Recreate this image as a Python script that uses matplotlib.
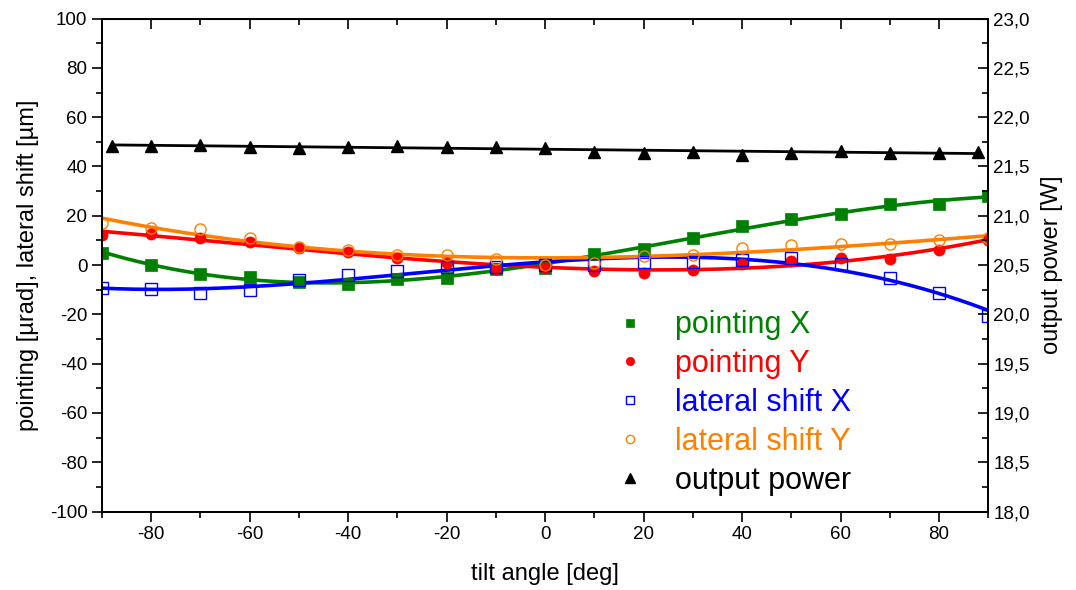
import numpy as np
import matplotlib
matplotlib.use('Agg')
import matplotlib.pyplot as plt
import matplotlib.ticker as pltick

plt.rcParams['font.family'] = ['Liberation Sans', 'DejaVu Sans']
plt.rcParams['axes.unicode_minus'] = False

# measured data
angle = [-90, -80, -70, -60, -50, -40, -30, -20, -10, 0, 10, 20, 30, 40, 50, 60, 70, 80, 90]
pointing_x = [5.0, 0.0, -3.5, -4.8, -6.8, -7.8, -5.8, -5.2, -1.8, -1.0, 4.5, 6.5, 11.0, 15.8, 18.5, 20.8, 24.8, 24.8, 28.0]
pointing_y = [12.0, 12.8, 10.8, 9.2, 6.8, 5.2, 3.0, 1.0, -1.4, -1.2, -2.6, -3.2, -2.2, 0.5, 1.5, 2.8, 2.5, 6.2, 10.0]
shift_x = [-9.2, -9.8, -11.2, -10.0, -6.0, -4.0, -2.4, -0.6, -0.8, 0.2, 0.2, 1.1, 1.4, 2.2, 3.0, 0.6, -5.2, -11.4, -20.5]
shift_y = [17.0, 15.2, 14.5, 11.0, 7.5, 6.0, 4.0, 4.2, 2.5, 0.0, 0.8, 3.8, 4.2, 6.8, 8.2, 8.6, 8.4, 10.0, 11.0]

power_angle = [-88, -80, -70, -60, -50, -40, -30, -20, -10, 0, 10, 20, 30, 40, 50, 60, 70, 80, 88]
power = [21.71, 21.71, 21.72, 21.70, 21.69, 21.70, 21.71, 21.70, 21.70, 21.69, 21.65, 21.64, 21.65, 21.62, 21.64, 21.66, 21.64, 21.64, 21.65]

fig = plt.figure(figsize=(10.76, 5.9), dpi=100)
ax = fig.add_axes([0.0948, 0.133, 0.8237, 0.8355])
ax2 = ax.twinx()

x_fit = np.linspace(-90, 90, 300)

series = [
    (pointing_x, '#008000', 's', '#008000', 'pointing X'),
    (pointing_y, '#ff0000', 'o', '#ff0000', 'pointing Y'),
    (shift_x, '#0000ff', 's', 'none', 'lateral shift X'),
    (shift_y, '#ff8000', 'o', 'none', 'lateral shift Y'),
]

handles = []
for vals, col, mk, face, label in series:
    coef = np.polyfit(angle, vals, 3)
    ax.plot(x_fit, np.polyval(coef, x_fit), color=col, lw=2.6, zorder=2)
    h, = ax.plot(angle, vals, linestyle='none', marker=mk, ms=8,
                 markerfacecolor=face, markeredgecolor=col,
                 markeredgewidth=1.0 if face == 'none' else 0.5,
                 label=label, zorder=3)
    handles.append(h)

pcoef = np.polyfit(power_angle, power, 1)
xp = np.linspace(-88, 88, 50)
ax2.plot(xp, np.polyval(pcoef, xp), color='black', lw=2)
h, = ax2.plot(power_angle, power, linestyle='none', marker='^', ms=9,
              color='black', label='output power')
handles.append(h)

ax.set_xlim(-90, 90)
ax.set_ylim(-100, 100)
ax2.set_ylim(18, 23)

ax.xaxis.set_major_locator(pltick.MultipleLocator(20))
ax.xaxis.set_minor_locator(pltick.MultipleLocator(10))
ax.yaxis.set_major_locator(pltick.MultipleLocator(20))
ax.yaxis.set_minor_locator(pltick.MultipleLocator(10))
ax2.yaxis.set_major_locator(pltick.MultipleLocator(0.5))
ax2.yaxis.set_minor_locator(pltick.MultipleLocator(0.25))
ax2.yaxis.set_major_formatter(pltick.FuncFormatter(lambda v, p: ('%.1f' % v).replace('.', ',')))

ax.set_xticks([-80, -60, -40, -20, 0, 20, 40, 60, 80])

ax.tick_params(axis='both', which='major', direction='out', length=7, width=1.2, labelsize=13.5)
ax.tick_params(axis='both', which='minor', direction='out', length=4, width=1.2)
ax2.tick_params(axis='y', which='major', direction='in', length=7, width=1.2, labelsize=13.5)
ax2.tick_params(axis='y', which='minor', direction='in', length=4, width=1.2)

# ticks on top border, pointing inwards
top = ax.secondary_xaxis('top')
top.xaxis.set_major_locator(pltick.MultipleLocator(20))
top.xaxis.set_minor_locator(pltick.MultipleLocator(10))
top.tick_params(which='major', direction='in', length=7, width=1.2, labeltop=False)
top.tick_params(which='minor', direction='in', length=4, width=1.2)

for a in (ax, ax2):
    for s in a.spines.values():
        s.set_linewidth(1.3)

ax.set_xlabel('tilt angle [deg]', fontsize=17, labelpad=14)
ax.set_ylabel('pointing [µrad], lateral shift [µm]', fontsize=17, labelpad=8)
ax2.set_ylabel('output power [W]', fontsize=17, labelpad=8)

leg = ax2.legend(handles=handles, loc='upper left', bbox_to_anchor=(0.547, 0.433),
                 frameon=False, fontsize=22, markerscale=0.75, handletextpad=0.5,
                 labelspacing=0.29, borderaxespad=0)
for txt, hd in zip(leg.get_texts(), handles):
    txt.set_color(hd.get_markeredgecolor())

fig.savefig('out.png', dpi=100)
